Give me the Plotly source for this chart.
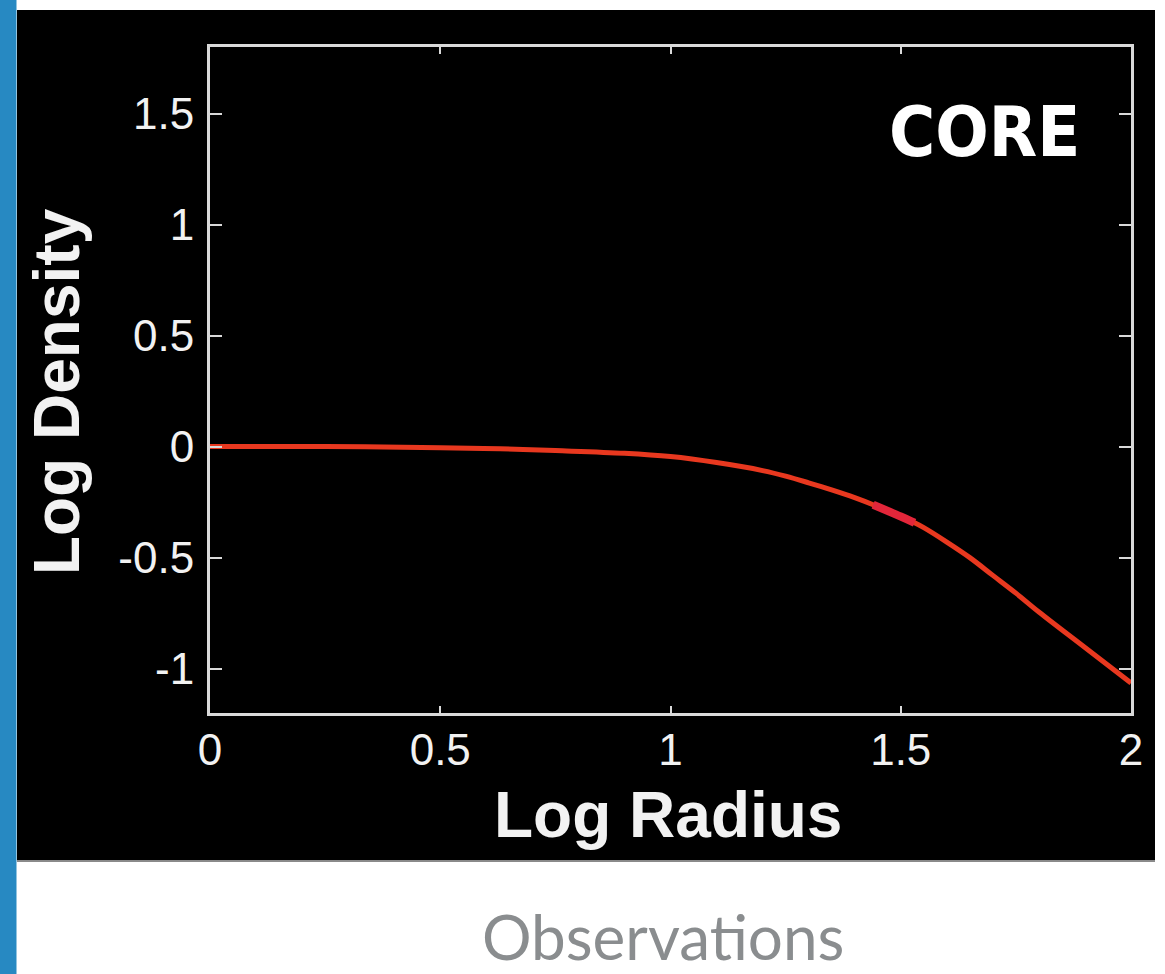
import numpy as np
import plotly.graph_objects as go

# Data
log_radius = [0.0, 0.25, 0.5, 0.63, 0.75, 0.9, 1.0, 1.1, 1.2, 1.25, 1.3, 1.35, 1.4, 1.44, 1.5, 1.53,
              1.55, 1.6, 1.65, 1.7, 1.75, 1.8, 1.9, 2.0]
log_density = [0.0, 0.0, -0.005, -0.01, -0.018, -0.03, -0.045, -0.072, -0.108, -0.133, -0.163, -0.195,
               -0.23, -0.262, -0.315, -0.343, -0.365, -0.43, -0.50, -0.58, -0.66, -0.745, -0.905, -1.065]
highlight_lo, highlight_hi = 1.44, 1.53
x_ticks = [0, 0.5, 1, 1.5, 2]
x_tick_labels = ["0", "0.5", "1", "1.5", "2"]
y_ticks = [-1, -0.5, 0, 0.5, 1, 1.5]
y_tick_labels = ["-1", "-0.5", "0", "0.5", "1", "1.5"]

W, H = 1165, 974
L, R, T, B = 210, 1131, 47, 713

def px(xp):
    return (xp - L) / (R - L)

def py(yp):
    return (B - yp) / (B - T)

hx = [x for x in log_radius if highlight_lo <= x <= highlight_hi]
hy = [y for x, y in zip(log_radius, log_density) if highlight_lo <= x <= highlight_hi]

fig = go.Figure()
fig.add_trace(go.Scatter(x=log_radius, y=log_density, mode="lines",
                         line=dict(color="#e8381f", width=5, shape="spline", smoothing=1.0),
                         hoverinfo="skip", showlegend=False))
fig.add_trace(go.Scatter(x=hx, y=hy, mode="lines",
                         line=dict(color="#e3263a", width=8, shape="spline"),
                         hoverinfo="skip", showlegend=False))

axis_line = "#d9d9d9"
tick_font = dict(family="Liberation Sans, Arial, sans-serif", size=44, color="#f2f2f2")

fig.update_xaxes(range=[0, 2], tickvals=x_ticks, ticktext=x_tick_labels,
                 showgrid=False, zeroline=False, showline=True, linecolor=axis_line, linewidth=3,
                 mirror="ticks", ticks="inside", ticklen=7, tickwidth=2, tickcolor=axis_line,
                 tickfont=tick_font, ticklabelstandoff=-4)
fig.update_yaxes(range=[-1.2, 1.8], tickvals=y_ticks, ticktext=y_tick_labels,
                 showgrid=False, zeroline=False, showline=True, linecolor=axis_line, linewidth=3,
                 mirror="ticks", ticks="inside", ticklen=12, tickwidth=2, tickcolor=axis_line,
                 tickfont=tick_font, ticklabelstandoff=4)

shapes = [
    dict(type="rect", xref="paper", yref="paper", x0=px(17), x1=px(1155), y0=py(861), y1=py(10),
         fillcolor="black", line=dict(width=0), layer="below"),
    dict(type="line", xref="paper", yref="paper", x0=px(17), x1=px(1155), y0=py(861), y1=py(861),
         line=dict(color="#8a8a8a", width=2), layer="below"),
    dict(type="rect", xref="paper", yref="paper", x0=px(0), x1=px(16.5), y0=py(974), y1=py(0),
         fillcolor="#2789c2", line=dict(width=0), layer="below"),
]

title_font = dict(family="Liberation Sans, Arial, sans-serif", size=64, color="#f2f2f2", weight="bold")
annotations = [
    dict(text="Log Radius", xref="paper", yref="paper", x=px(668), y=py(815), showarrow=False,
         font=title_font, xanchor="center", yanchor="middle"),
    dict(text="Log Density", xref="paper", yref="paper", x=px(57), y=py(392), showarrow=False,
         textangle=-90, font=title_font, xanchor="center", yanchor="middle"),
    dict(text='<span style="font-stretch:condensed">CORE</span>', xref="paper", yref="paper",
         x=px(1082), y=py(132), showarrow=False,
         font=dict(family="DejaVu Sans, sans-serif", size=70, color="white", weight="bold"),
         xanchor="right", yanchor="middle"),
    dict(text="Observations", xref="paper", yref="paper", x=px(663), y=py(936), showarrow=False,
         font=dict(family="Lato, Open Sans, sans-serif", size=62, color="#8a8d8f"),
         xanchor="center", yanchor="middle"),
]

fig.update_layout(width=W, height=H, autosize=False,
                  margin=dict(l=L, r=W - R, t=T, b=H - B, pad=0),
                  paper_bgcolor="white", plot_bgcolor="black",
                  shapes=shapes, annotations=annotations, showlegend=False)

fig.write_html("out.html", config={"displayModeBar": False, "staticPlot": True},
               post_script="document.body.style.margin='0';document.body.style.overflow='hidden';")
